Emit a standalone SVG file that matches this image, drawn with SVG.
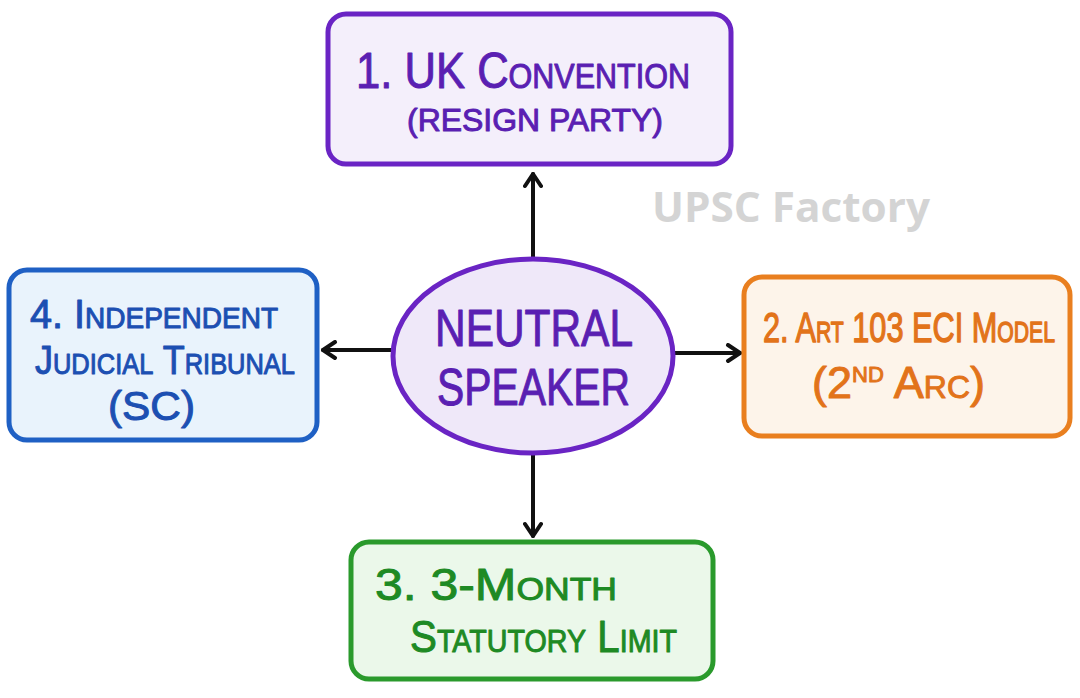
<svg xmlns="http://www.w3.org/2000/svg" width="1080" height="698" viewBox="0 0 1080 698">
<style>
.t{font-family:"Liberation Sans",Arial,sans-serif;font-weight:400;font-variant:small-caps;stroke-width:1;stroke-linejoin:round;}
.box{stroke-width:5;}
.conn{stroke:#111;stroke-width:4;fill:none;stroke-linecap:round;stroke-linejoin:round;}
</style>
<defs>
<marker id="ah" viewBox="0 0 20 20" refX="17" refY="10" markerWidth="20" markerHeight="20" markerUnits="userSpaceOnUse" orient="auto">
<path d="M5,2 L17,10 L5,18" fill="none" stroke="#111" stroke-width="4" stroke-linecap="round" stroke-linejoin="round"/>
</marker>
</defs>
<rect width="1080" height="698" fill="#ffffff"/>
<text x="652" y="222" font-family="'Open Sans','Liberation Sans',sans-serif" font-weight="700" font-size="42" fill="#d4d4d4" textLength="278" lengthAdjust="spacingAndGlyphs">UPSC Factory</text>
<g id="connectors">
<line class="conn" x1="533" y1="258" x2="533" y2="174" marker-end="url(#ah)"/>
<line class="conn" x1="533" y1="455" x2="533" y2="536" marker-end="url(#ah)"/>
<line class="conn" x1="673" y1="353" x2="740" y2="353" marker-end="url(#ah)"/>
<line class="conn" x1="393" y1="350" x2="323" y2="350" marker-end="url(#ah)"/>
</g>
<g id="node-uk">
<rect class="box" x="328" y="14" width="403" height="150" rx="18" fill="#f4effb" stroke="#6a24c4"/>
<text class="t" x="356" y="88" font-size="50" fill="#5a1fb2" stroke="#5a1fb2" textLength="334" lengthAdjust="spacingAndGlyphs">1. UK Convention</text>
<text class="t" x="407" y="131" font-size="32" fill="#5a1fb2" stroke="#5a1fb2" textLength="256" lengthAdjust="spacingAndGlyphs">(RESIGN PARTY)</text>
</g>
<g id="node-tribunal">
<rect class="box" x="9" y="270" width="308" height="170" rx="18" fill="#e9f3fc" stroke="#1f60c4"/>
<text class="t" x="30" y="328" font-size="41" fill="#1c4fb2" stroke="#1c4fb2" textLength="248" lengthAdjust="spacingAndGlyphs">4. Independent</text>
<text class="t" x="35" y="374" font-size="41" fill="#1c4fb2" stroke="#1c4fb2" textLength="260" lengthAdjust="spacingAndGlyphs">Judicial Tribunal</text>
<text class="t" x="108" y="420" font-size="41" fill="#1c4fb2" stroke="#1c4fb2" textLength="87" lengthAdjust="spacingAndGlyphs">(SC)</text>
</g>
<g id="node-eci">
<rect class="box" x="744" y="277" width="326" height="159" rx="18" fill="#fdf4ea" stroke="#e97f1f"/>
<text class="t" transform="translate(763,342) scale(1,1.4)" x="0" y="0" font-size="31" fill="#e2731a" stroke="#e2731a" stroke-width="0.8" textLength="292" lengthAdjust="spacingAndGlyphs">2. Art 103 ECI Model</text>
<text class="t" x="812" y="398" font-size="45" fill="#e2731a" stroke="#e2731a">(2<tspan font-size="22" dy="-16">ND</tspan><tspan dy="16"> Arc)</tspan></text>
</g>
<g id="node-limit">
<rect class="box" x="351" y="542" width="362" height="137" rx="18" fill="#ebf8ea" stroke="#2a9a2c"/>
<text class="t" x="375" y="600" font-size="45" fill="#1e8a24" stroke="#1e8a24" textLength="242" lengthAdjust="spacingAndGlyphs">3. 3-Month</text>
<text class="t" x="410" y="652" font-size="45" fill="#1e8a24" stroke="#1e8a24" textLength="267" lengthAdjust="spacingAndGlyphs">Statutory Limit</text>
</g>
<g id="node-speaker">
<ellipse class="box" cx="533" cy="356" rx="140" ry="97" fill="#efe8f9" stroke="#6a24c4"/>
<text class="t" x="435" y="346" font-size="51" fill="#5a1fb2" stroke="#5a1fb2" textLength="198" lengthAdjust="spacingAndGlyphs">NEUTRAL</text>
<text class="t" x="437" y="405" font-size="51" fill="#5a1fb2" stroke="#5a1fb2" textLength="193" lengthAdjust="spacingAndGlyphs">SPEAKER</text>
</g>
</svg>
